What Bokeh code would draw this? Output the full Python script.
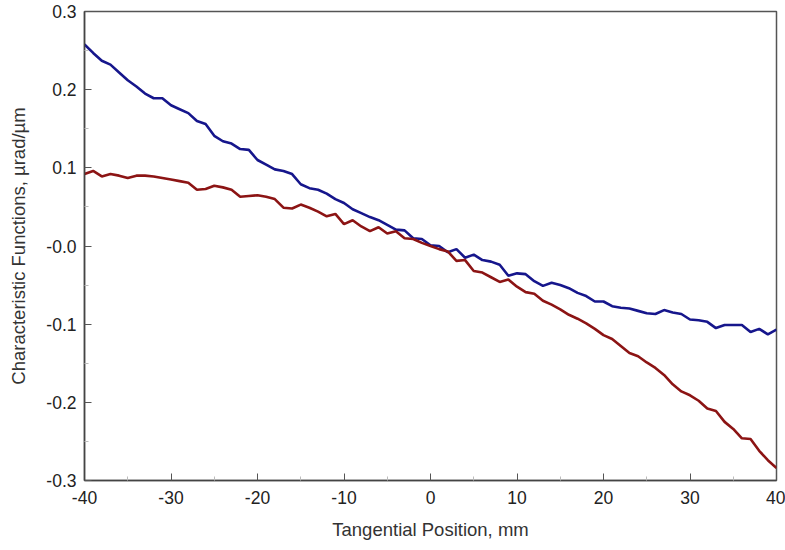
from bokeh.plotting import figure
from bokeh.models import Range1d, CustomJSTickFormatter, FixedTicker
from bokeh.embed import file_html
from bokeh.resources import INLINE

# Tangential position, mm
x_mm = list(range(-40, 41))

# Blue series
blue_vals = [0.258, 0.247, 0.237, 0.232, 0.222, 0.212, 0.204, 0.195, 0.189, 0.189,
             0.180, 0.175, 0.170, 0.160, 0.156, 0.141, 0.134, 0.131, 0.124, 0.123,
             0.110, 0.104, 0.098, 0.096, 0.092, 0.079, 0.074, 0.072, 0.067, 0.060,
             0.055, 0.047, 0.042, 0.037, 0.033, 0.027, 0.021, 0.020, 0.010, 0.009,
             0.001, 0.000, -0.008, -0.004, -0.015, -0.011, -0.018, -0.020, -0.024, -0.038,
             -0.035, -0.036, -0.045, -0.051, -0.047, -0.050, -0.054, -0.060, -0.064, -0.071,
             -0.071, -0.077, -0.079, -0.080, -0.083, -0.086, -0.087, -0.082, -0.085, -0.087,
             -0.094, -0.095, -0.097, -0.105, -0.101, -0.101, -0.101, -0.110, -0.106, -0.113,
             -0.107]

# Red series
red_vals = [0.092, 0.096, 0.089, 0.092, 0.090, 0.087, 0.090, 0.090, 0.089, 0.087,
            0.085, 0.083, 0.081, 0.072, 0.073, 0.077, 0.075, 0.072, 0.063, 0.064,
            0.065, 0.063, 0.060, 0.049, 0.048, 0.053, 0.049, 0.044, 0.038, 0.041,
            0.028, 0.033, 0.025, 0.019, 0.024, 0.016, 0.019, 0.010, 0.009, 0.004,
            0.000, -0.004, -0.007, -0.019, -0.018, -0.032, -0.034, -0.040, -0.046, -0.043,
            -0.052, -0.059, -0.061, -0.070, -0.075, -0.081, -0.088, -0.093, -0.099, -0.106,
            -0.114, -0.119, -0.128, -0.137, -0.141, -0.149, -0.156, -0.165, -0.177, -0.186,
            -0.191, -0.198, -0.208, -0.211, -0.225, -0.234, -0.246, -0.247, -0.262, -0.274,
            -0.284]

x_ticks = [-40, -30, -20, -10, 0, 10, 20, 30, 40]
y_ticks = [-0.3, -0.2, -0.1, 0.0, 0.1, 0.2, 0.3]

p = figure(width=785, height=548, output_backend="svg", toolbar_location=None,
           x_range=Range1d(-40, 40), y_range=Range1d(-0.3, 0.3),
           min_border_left=84, min_border_right=9, min_border_top=11, min_border_bottom=68)

p.line(x_mm, blue_vals, line_color="#16168c", line_width=2.6)
p.line(x_mm, red_vals, line_color="#8c1414", line_width=2.6)

p.xgrid.visible = False
p.ygrid.visible = False
p.outline_line_color = "#555555"
p.outline_line_width = 1.5
p.background_fill_color = "white"
p.border_fill_color = "white"

p.xaxis.ticker = FixedTicker(ticks=x_ticks, minor_ticks=[v + 5 for v in x_ticks[:-1]])
p.yaxis.ticker = FixedTicker(ticks=y_ticks, minor_ticks=[round(v + 0.05, 2) for v in y_ticks[:-1]])
p.xaxis.formatter = CustomJSTickFormatter(code="return tick.toFixed(0);")
p.yaxis.formatter = CustomJSTickFormatter(code="""
    if (Math.abs(tick) < 1e-9) { return "-0.0"; }
    return tick.toFixed(1);
""")

for ax in (p.xaxis[0], p.yaxis[0]):
    ax.axis_line_color = "#444444"
    ax.axis_line_width = 1.5
    ax.major_tick_in = 7
    ax.major_tick_out = 0
    ax.minor_tick_in = 4
    ax.minor_tick_out = 0
    ax.major_tick_line_color = "#555555"
    ax.minor_tick_line_color = "#bbbbbb"
    ax.major_label_text_font = "Liberation Sans"
    ax.major_label_text_font_size = "17.5px"
    ax.major_label_text_color = "#222222"
    ax.axis_label_text_font = "Liberation Sans"
    ax.axis_label_text_font_size = "18.5px"
    ax.axis_label_text_font_style = "normal"
    ax.axis_label_text_color = "#333333"

p.xaxis.major_label_standoff = 10
p.yaxis.major_label_standoff = 8
p.xaxis.axis_label = "Tangential Position, mm"
p.yaxis.axis_label = "Characteristic Functions, \u00b5rad/\u00b5m"
p.xaxis.axis_label_standoff = 12
p.yaxis.axis_label_standoff = 14

open("out.html", "w").write(file_html(p, INLINE))
